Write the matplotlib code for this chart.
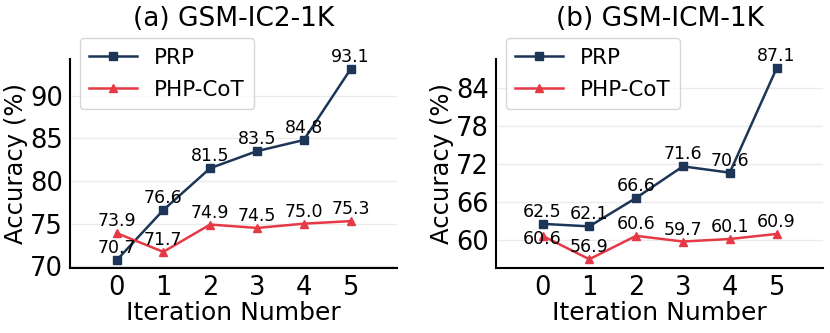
import numpy as np
from matplotlib import pyplot as plt

iterations = [0, 1, 2, 3, 4, 5]

# (a) GSM-IC2-1K
ic2_prp = [70.7, 76.6, 81.5, 83.5, 84.8, 93.1]
ic2_php = [73.9, 71.7, 74.9, 74.5, 75.0, 75.3]

# (b) GSM-ICM-1K
icm_prp = [62.5, 62.1, 66.6, 71.6, 70.6, 87.1]
icm_php = [60.6, 56.9, 60.6, 59.7, 60.1, 60.9]

titles = ['(a) GSM-IC2-1K', '(b) GSM-ICM-1K']
yticks_list = [[70, 75, 80, 85, 90], [60, 66, 72, 78, 84]]
ylims = [(69.8, 94.3), (55.5, 88.6)]

prp_color = '#1d3557'
php_color = '#e63946'

fig, axes = plt.subplots(1, 2, figsize=(8.3, 3.33), dpi=100)

panels = [(ic2_prp, ic2_php), (icm_prp, icm_php)]
for i, (ax, (prp, php), title, yt, yl) in enumerate(zip(axes, panels, titles, yticks_list, ylims)):
    ax.plot(iterations, prp, color=prp_color, marker='s', markersize=6,
            linewidth=1.8, label='PRP')
    ax.plot(iterations, php, color=php_color, marker='^', markersize=6,
            linewidth=1.8, label='PHP-CoT')
    for x, y in zip(iterations, prp):
        ax.annotate(f'{y:.1f}', (x, y), textcoords='offset points', xytext=(0, 5),
                    ha='center', fontsize=12.5)
    for x, y in zip(iterations, php):
        # first PHP-CoT label in (b) sits on its point so it clears the PRP one
        if i == 1 and x == 0:
            ax.annotate(f'{y:.1f}', (x, y), textcoords='offset points', xytext=(0, -2),
                        ha='center', va='center', fontsize=12.5)
        else:
            ax.annotate(f'{y:.1f}', (x, y), textcoords='offset points', xytext=(0, 5),
                        ha='center', fontsize=12.5)
    ax.set_xlim(-1, 6)
    ax.set_ylim(*yl)
    ax.set_xticks(iterations)
    ax.set_yticks(yt)
    ax.tick_params(axis='both', labelsize=18.5, length=0, pad=5)
    ax.grid(axis='y', color='#ebebeb', linewidth=1)
    ax.set_axisbelow(True)
    ax.spines['top'].set_visible(False)
    ax.spines['right'].set_visible(False)
    ax.spines['left'].set_linewidth(1.5)
    ax.spines['bottom'].set_linewidth(1.5)
    ax.set_xlabel('Iteration Number', fontsize=18, labelpad=0)
    ax.set_ylabel('Accuracy (%)', fontsize=17.5, labelpad=1)
    ax.set_title(title, fontsize=19, pad=24)
    ax.legend(loc='upper left', bbox_to_anchor=(0.03, 1.1), borderaxespad=0,
              fontsize=15.5, handlelength=2.2, borderpad=0.45, labelspacing=0.55)

plt.subplots_adjust(left=0.084, right=0.992, bottom=0.195, top=0.823, wspace=0.3)
plt.savefig('out.png', dpi=100)
